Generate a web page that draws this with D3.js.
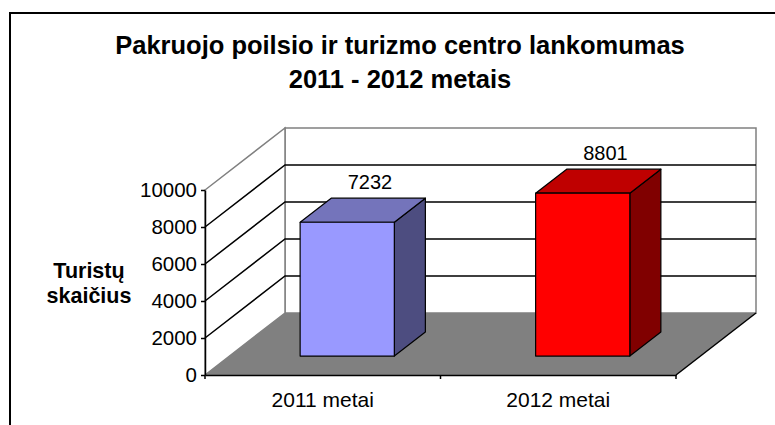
<!DOCTYPE html>
<html>
<head>
<meta charset="utf-8">
<script src="https://cdnjs.cloudflare.com/ajax/libs/d3/7.8.5/d3.min.js"></script>
<style>
  body { margin: 0; background: #fff; }
  text { font-family: "Liberation Sans", Arial, sans-serif; fill: #000; }
</style>
</head>
<body>
<div id="chart"></div>
<script>
// duomenys
var categories = ["2011 metai", "2012 metai"];
var values = [7232, 8801];
var yTicks = [0, 2000, 4000, 6000, 8000, 10000];
var titleLines = ["Pakruojo poilsio ir turizmo centro lankomumas", "2011 - 2012 metais"];
var yTitleLines = ["Turistų", "skaičius"];

// spalvos: priekis, viršus, šonas
var barColors = [
  { front: "#9999ff", top: "#7474bb", side: "#4d4d80" },
  { front: "#ff0000", top: "#bf0000", side: "#800000" }
];

var width = 775, height = 425;

var svg = d3.select("#chart")
  .append("svg")
  .attr("width", width)
  .attr("height", height);

// remelis
svg.append("rect")
  .attr("x", 10)
  .attr("y", 13)
  .attr("width", 800)
  .attr("height", 450)
  .attr("fill", "none")
  .attr("stroke", "#000")
  .attr("stroke-width", 2);

// pavadinimas
svg.append("g").selectAll("text")
  .data(titleLines)
  .enter().append("text")
  .attr("x", 400)
  .attr("y", function (d, i) { return 54 + i * 34; })
  .attr("text-anchor", "middle")
  .style("font-size", "25.5px")
  .style("font-weight", "bold")
  .text(function (d) { return d; });

// skales (priekine plokstuma)
var x = d3.scaleBand()
  .domain(categories)
  .range([205, 676]);

var y = d3.scaleLinear()
  .domain([0, 10000])
  .range([375, 190]);

// gylio poslinkis
var depthX = 80, depthY = -62;

function proj(xv, v, z) {
  return [xv + z * depthX, y(v) + z * depthY];
}

var x0 = x.range()[0], x1 = x.range()[1];
var vMax = y.domain()[1];

function poly(pts) {
  return pts.map(function (p) { return p.join(","); }).join(" ");
}

// galine siena
svg.append("polygon")
  .attr("points", poly([proj(x0, 0, 1), proj(x1, 0, 1), proj(x1, vMax, 1), proj(x0, vMax, 1)]))
  .attr("fill", "#fff")
  .attr("stroke", "#808080")
  .attr("stroke-width", 1.5);

// sonine siena
svg.append("polygon")
  .attr("points", poly([proj(x0, 0, 0), proj(x0, vMax, 0), proj(x0, vMax, 1), proj(x0, 0, 1)]))
  .attr("fill", "#fff")
  .attr("stroke", "#808080")
  .attr("stroke-width", 1.5);

// tinklelio linijos
var inner = yTicks.filter(function (d) { return d > 0 && d < vMax; });
var grid = svg.append("g");
inner.forEach(function (v) {
  var a = proj(x0, v, 0), b = proj(x0, v, 1), c = proj(x1, v, 1);
  grid.append("polyline")
    .attr("points", poly([a, b, c]))
    .attr("fill", "none")
    .attr("stroke", "#000")
    .attr("stroke-width", 1.5);
});

// grindys
svg.append("polygon")
  .attr("points", poly([proj(x0, 0, 0), proj(x1, 0, 0), proj(x1, 0, 1), proj(x0, 0, 1)]))
  .attr("fill", "#808080")
  .attr("stroke", "none");
svg.append("line")
  .attr("x1", proj(x1, 0, 0)[0]).attr("y1", proj(x1, 0, 0)[1])
  .attr("x2", proj(x1, 0, 1)[0]).attr("y2", proj(x1, 0, 1)[1])
  .attr("stroke", "#000")
  .attr("stroke-width", 1.5);

// stulpeliai
var z0 = 0.306, z1 = 0.694;
var bars = svg.append("g").selectAll("g")
  .data(values)
  .enter().append("g");

function bx0(i) { return x(categories[i]) + x.bandwidth() * 0.3; }
function bx1(i) { return x(categories[i]) + x.bandwidth() * 0.7; }

bars.append("polygon")
  .attr("points", function (d, i) {
    return poly([proj(bx1(i), 0, z0), proj(bx1(i), 0, z1), proj(bx1(i), d, z1), proj(bx1(i), d, z0)]);
  })
  .attr("fill", function (d, i) { return barColors[i].side; })
  .attr("stroke", "#000")
  .attr("stroke-width", 1.2)
  .attr("stroke-linejoin", "round");

bars.append("polygon")
  .attr("points", function (d, i) {
    return poly([proj(bx0(i), d, z0), proj(bx1(i), d, z0), proj(bx1(i), d, z1), proj(bx0(i), d, z1)]);
  })
  .attr("fill", function (d, i) { return barColors[i].top; })
  .attr("stroke", "#000")
  .attr("stroke-width", 1.2)
  .attr("stroke-linejoin", "round");

bars.append("polygon")
  .attr("points", function (d, i) {
    return poly([proj(bx0(i), 0, z0), proj(bx1(i), 0, z0), proj(bx1(i), d, z0), proj(bx0(i), d, z0)]);
  })
  .attr("fill", function (d, i) { return barColors[i].front; })
  .attr("stroke", "#000")
  .attr("stroke-width", 1.2)
  .attr("stroke-linejoin", "round");

// reiksmes
bars.append("text")
  .attr("x", function (d, i) { return proj(x(categories[i]) + x.bandwidth() / 2, d, 0.59)[0]; })
  .attr("y", function (d, i) { return proj(0, d, 0.59)[1] - 16; })
  .attr("text-anchor", "middle")
  .style("font-size", "20px")
  .text(function (d) { return d; });

// Y asis
var yAxis = svg.append("g")
  .attr("transform", "translate(" + x0 + ",0)")
  .call(d3.axisLeft(y).tickValues(yTicks).tickFormat(d3.format("d"))
    .tickSize(4).tickSizeOuter(0).tickPadding(4));
yAxis.select(".domain").attr("stroke", "#000").attr("stroke-width", 1.5);
yAxis.selectAll(".tick line").attr("stroke", "#000").attr("stroke-width", 1.5);
yAxis.selectAll("text")
  .style("font-size", "20.5px")
  .style("font-family", "'Liberation Sans', Arial, sans-serif");

// X asis
var xAxis = svg.append("g")
  .attr("transform", "translate(0," + y(0) + ")")
  .call(d3.axisBottom(x).tickSize(0).tickSizeOuter(0).tickPadding(17));
xAxis.select(".domain").attr("stroke", "#000").attr("stroke-width", 1.5);
xAxis.selectAll("text")
  .style("font-size", "21px")
  .style("font-family", "'Liberation Sans', Arial, sans-serif");

// X asies padalos ant kategoriju ribu
var edges = categories.map(function (c) { return x(c); }).concat([x1]);
xAxis.selectAll(".edge")
  .data(edges)
  .enter().append("line")
  .attr("class", "edge")
  .attr("x1", function (d) { return d; })
  .attr("x2", function (d) { return d; })
  .attr("y1", 0)
  .attr("y2", 4)
  .attr("stroke", "#000")
  .attr("stroke-width", 1.5);

// Y asies pavadinimas
svg.append("g").selectAll("text")
  .data(yTitleLines)
  .enter().append("text")
  .attr("x", 89)
  .attr("y", function (d, i) { return 278 + i * 25; })
  .attr("text-anchor", "middle")
  .style("font-size", "21.5px")
  .style("font-weight", "bold")
  .text(function (d) { return d; });
</script>
</body>
</html>
